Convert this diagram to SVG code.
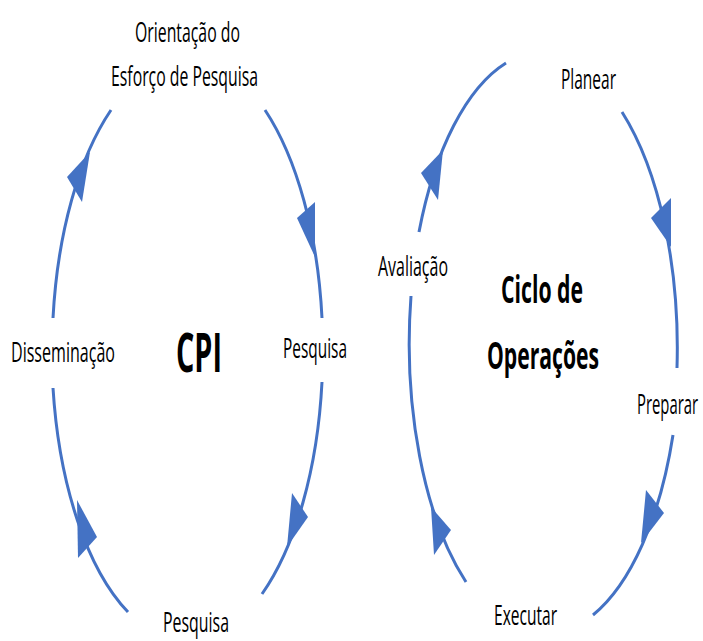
<svg xmlns="http://www.w3.org/2000/svg" width="703" height="641" viewBox="0 0 703 641">
<style>
.lbl{font-family:"Open Sans","Noto Sans","Liberation Sans",sans-serif;font-size:27px;fill:#000;}
.ttl{font-family:"Open Sans","Noto Sans","Liberation Sans",sans-serif;font-weight:bold;fill:#000;}
.arc{fill:none;stroke:#4472C4;stroke-width:3;}
.head{fill:#4472C4;stroke:none;}
</style>
<rect width="703" height="641" fill="#fff"/>
<g id="connectors">
<path class="arc" d="M111 110 A135 292 0 0 0 53 318"/>
<path class="arc" d="M265 110 A135 292 0 0 1 322 318"/>
<path class="arc" d="M322 382 A135 292 0 0 1 262 594"/>
<path class="arc" d="M53 388 A135 292 0 0 0 128 612"/>
<polygon class="head" points="90,152 67,177 82,202"/>
<polygon class="head" points="315,257 297,218 315,202"/>
<polygon class="head" points="287,547 292,493 308,517"/>
<polygon class="head" points="77,500 97,537 78,558"/>
<path class="arc" d="M506 63 A134 292 0 0 0 419 232"/>
<path class="arc" d="M622 112 A134 292 0 0 1 677 368"/>
<path class="arc" d="M673 435 A134 292 0 0 1 593 615"/>
<path class="arc" d="M411 296 A134 292 0 0 0 466 582"/>
<polygon class="head" points="443,150 421,173 438,200"/>
<polygon class="head" points="671,247 651,218 671,198"/>
<polygon class="head" points="641,543 646,490 664,513"/>
<polygon class="head" points="431,507 451,530 434,555"/>
</g>
<g id="cpi-title"><text class="ttl" x="176" y="372" font-size="54" textLength="46" lengthAdjust="spacingAndGlyphs">CPI</text></g>
<g id="node-orientacao">
<text class="lbl" x="135" y="42" textLength="105" lengthAdjust="spacingAndGlyphs">Orientação do</text>
<text class="lbl" x="111" y="86" textLength="147" lengthAdjust="spacingAndGlyphs">Esforço de Pesquisa</text>
</g>
<g id="node-pesquisa-1"><text class="lbl" x="283" y="358" textLength="64" lengthAdjust="spacingAndGlyphs">Pesquisa</text></g>
<g id="node-pesquisa-2"><text class="lbl" x="163" y="632" textLength="66" lengthAdjust="spacingAndGlyphs">Pesquisa</text></g>
<g id="node-disseminacao"><text class="lbl" x="11" y="362" textLength="104" lengthAdjust="spacingAndGlyphs">Disseminação</text></g>
<g id="ciclo-title">
<text class="ttl" x="501" y="303" font-size="38" textLength="82" lengthAdjust="spacingAndGlyphs">Ciclo de</text>
<text class="ttl" x="487" y="369" font-size="38" textLength="112" lengthAdjust="spacingAndGlyphs">Operações</text>
</g>
<g id="node-planear"><text class="lbl" x="561" y="89" textLength="55" lengthAdjust="spacingAndGlyphs">Planear</text></g>
<g id="node-preparar"><text class="lbl" transform="translate(637,414) scale(0.55,1)">Preparar</text></g>
<g id="node-executar"><text class="lbl" x="494" y="625" textLength="63" lengthAdjust="spacingAndGlyphs">Executar</text></g>
<g id="node-avaliacao"><text class="lbl" x="378" y="276" textLength="70" lengthAdjust="spacingAndGlyphs">Avaliação</text></g>
</svg>
